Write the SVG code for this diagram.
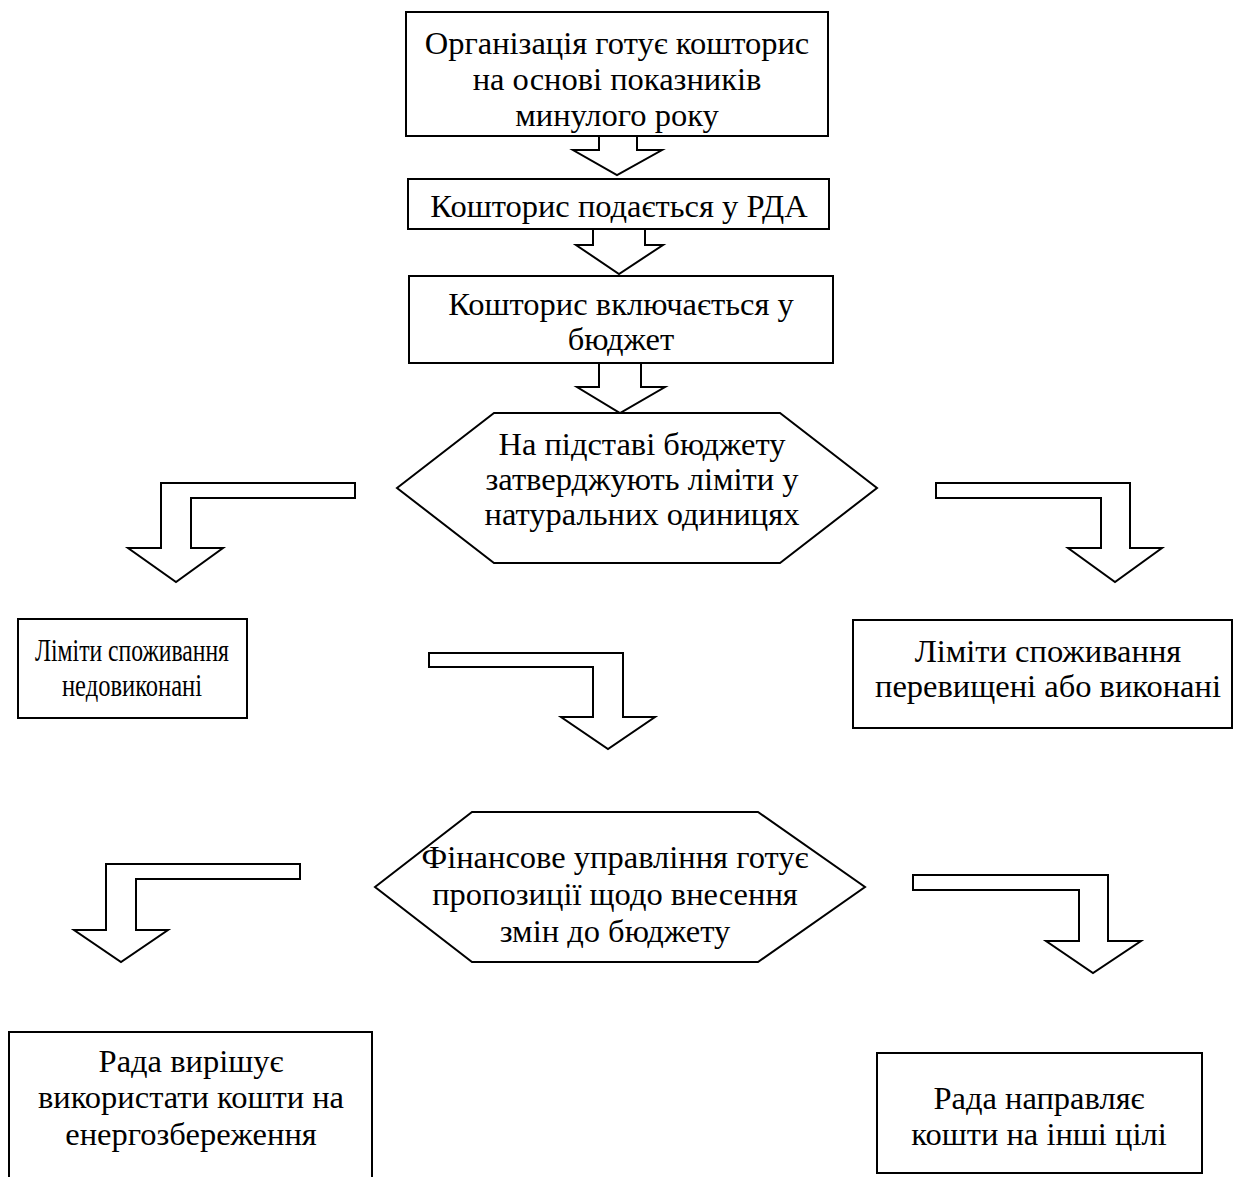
<svg xmlns="http://www.w3.org/2000/svg" width="1249" height="1177" viewBox="0 0 1249 1177">
<style>
.box{fill:#fff;stroke:#000;stroke-width:2}
.arr{fill:#fff;stroke:#000;stroke-width:2;stroke-linejoin:miter}
text{font-family:"Liberation Serif","Times New Roman",serif;font-size:32.5px;fill:#000;text-anchor:middle}
.cond{font-size:32px}
</style>
<rect width="1249" height="1177" fill="#fff"/>
<g id="connectors">
<path class="arr" d="M599,136 L599,150 L573,150 L617,175 L662,150 L637,150 L637,136"/>
<path class="arr" d="M593,229 L593,245 L576,245 L619,274 L663,245 L645,245 L645,229"/>
<path class="arr" d="M599,363 L599,387 L577,387 L620,413 L665,387 L641,387 L641,363"/>
<path class="arr" d="M355,483 L161,483 L161,548 L128,548 L176,582 L223,548 L191,548 L191,498 L355,498 Z"/>
<path class="arr" d="M936,483 L1130,483 L1130,548 L1162,548 L1115,582 L1068,548 L1101,548 L1101,498 L936,498 Z"/>
<path class="arr" d="M429,653 L623,653 L623,717 L655,717 L608,749 L561,717 L593,717 L593,667 L429,667 Z"/>
<path class="arr" d="M300,864 L106,864 L106,930 L74,930 L121,962 L168,930 L136,930 L136,879 L300,879 Z"/>
<path class="arr" d="M913,875 L1108,875 L1108,941 L1141,941 L1093,973 L1046,941 L1079,941 L1079,890 L913,890 Z"/>
</g>
<g id="n1">
<rect class="box" x="406" y="12" width="422" height="124"/>
<text x="617" y="54">Організація готує кошторис</text>
<text x="617" y="90">на основі показників</text>
<text x="617" y="126">минулого року</text>
</g>
<g id="n2">
<rect class="box" x="408" y="179" width="421" height="50"/>
<text x="619" y="217">Кошторис подається у РДА</text>
</g>
<g id="n3">
<rect class="box" x="409" y="276" width="424" height="87"/>
<text x="621" y="315">Кошторис включається у</text>
<text x="621" y="350">бюджет</text>
</g>
<g id="n4">
<polygon class="box" points="397,488 494,413 780,413 877,488 780,563 494,563"/>
<text x="642" y="455">На підставі бюджету</text>
<text x="642" y="490">затверджують ліміти у</text>
<text x="642" y="525">натуральних одиницях</text>
</g>
<g id="n5">
<rect class="box" x="18" y="619" width="229" height="99"/>
<text class="cond" x="132" y="661" textLength="194" lengthAdjust="spacingAndGlyphs">Ліміти споживання</text>
<text class="cond" x="132" y="696" textLength="140" lengthAdjust="spacingAndGlyphs">недовиконані</text>
</g>
<g id="n6">
<rect class="box" x="853" y="620" width="379" height="108"/>
<text x="1048" y="662">Ліміти споживання</text>
<text x="1048" y="697">перевищені або виконані</text>
</g>
<g id="n7">
<polygon class="box" points="375,887 472,812 758,812 865,887 758,962 472,962"/>
<text x="615" y="868">Фінансове управління готує</text>
<text x="615" y="905">пропозиції щодо внесення</text>
<text x="615" y="942">змін до бюджету</text>
</g>
<g id="n8">
<rect class="box" x="9" y="1032" width="363" height="160"/>
<text x="191" y="1072">Рада вирішує</text>
<text x="191" y="1108">використати кошти на</text>
<text x="191" y="1145">енергозбереження</text>
</g>
<g id="n9">
<rect class="box" x="877" y="1053" width="325" height="120"/>
<text x="1039" y="1109">Рада направляє</text>
<text x="1039" y="1145">кошти на інші цілі</text>
</g>
</svg>
